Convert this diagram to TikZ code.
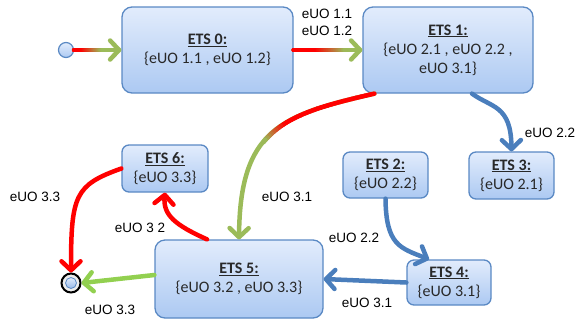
\documentclass[tikz,border=0pt]{standalone}
\usepackage{fontspec}
\setmainfont{Carlito}
\newfontfamily\labfont{Liberation Sans}
\usetikzlibrary{arrows.meta,calc}

\definecolor{redc}{RGB}{255,0,0}
\definecolor{olivec}{RGB}{155,187,89}
\definecolor{lgreenc}{RGB}{146,208,80}
\definecolor{bluec}{RGB}{74,126,188}
\definecolor{edgec}{RGB}{90,137,196}
\definecolor{boxtop}{RGB}{226,236,252}
\definecolor{boxbot}{RGB}{172,201,242}
\definecolor{txtc}{RGB}{40,40,40}

\tikzset{
  etsbox/.style={draw=edgec, line width=1.3pt, rounded corners=#1,
    top color=boxtop, bottom color=boxbot, align=center,
    font=\fontsize{16}{19}\selectfont, text=txtc, inner sep=0pt},
  etsbox/.default=10pt,
  lab/.style={font=\labfont\fontsize{13.5}{17}\selectfont, text=black, align=center, inner sep=0pt},
  conn/.style={line width=4.5pt, line cap=round, line join=round,
    -{Straight Barb[length=9pt,width=19pt,line cap=round,line join=round]}},
}

% overlay of a red-to-#7 blend along a cubic curve (#1..#4 coordinate names),
% blending between curve parameters #5 and #6
\newcommand\gradover[7]{%
  \foreach \i in {1,...,60}{%
    \pgfmathsetmacro\ta{(\i-1)/60}%
    \pgfmathsetmacro\tb{\i/60}%
    \pgfmathsetmacro\mixv{max(0,min(100,((\ta+\tb)/2-#5)/(#6-#5)*100))}%
    \ifdim\ta pt<#6pt
      \begin{pgfscope}
        \colorlet{segc}{#7!\mixv!redc}%
        \pgfsetstrokecolor{segc}%
        \pgfsetlinewidth{4.5pt}\pgfsetroundcap
        \pgfpathmoveto{\pgfpointcurveattime{\ta}{\pgfpointanchor{#1}{center}}{\pgfpointanchor{#2}{center}}{\pgfpointanchor{#3}{center}}{\pgfpointanchor{#4}{center}}}%
        \pgfpathlineto{\pgfpointcurveattime{\tb}{\pgfpointanchor{#1}{center}}{\pgfpointanchor{#2}{center}}{\pgfpointanchor{#3}{center}}{\pgfpointanchor{#4}{center}}}%
        \pgfusepath{stroke}%
      \end{pgfscope}
    \fi
  }%
}

\begin{document}
\begin{tikzpicture}[x=1pt,y=-1pt]
\useasboundingbox (0,0) rectangle (577,325);

% states
\node[etsbox, minimum width=171pt, minimum height=86pt] (e0) at (207.5,50)
  {\underline{\textbf{ETS 0:}}\\\{eUO 1.1 , eUO 1.2\}};
\node[etsbox, minimum width=170pt, minimum height=86pt] (e1) at (448,50)
  {\underline{\textbf{ETS 1:}}\\\{eUO 2.1 , eUO 2.2 ,\\eUO 3.1\}};
\node[etsbox=7pt, minimum width=86pt, minimum height=47pt] (e6) at (165,168.5)
  {\underline{\textbf{ETS 6:}}\\\{eUO 3.3\}};
\node[etsbox=7pt, minimum width=85pt, minimum height=46pt] (e2) at (385.5,175)
  {\underline{\textbf{ETS 2:}}\\\{eUO 2.2\}};
\node[etsbox=7pt, minimum width=85pt, minimum height=47pt] (e3) at (511.5,175.5)
  {\underline{\textbf{ETS 3:}}\\\{eUO 2.1\}};
\node[etsbox=7pt, minimum width=84pt, minimum height=45pt] (e4) at (449,282.5)
  {\underline{\textbf{ETS 4:}}\\\{eUO 3.1\}};
\node[etsbox, minimum width=168pt, minimum height=78pt] (e5) at (239,279)
  {\underline{\textbf{ETS 5:}}\\\{eUO 3.2 , eUO 3.3\}};

% initial and final markers
\node[circle, draw=edgec, line width=1.2pt, top color=boxtop, bottom color=boxbot,
  minimum size=15pt, inner sep=0pt] (init) at (66,50) {};
\node[circle, draw=black, line width=2pt, fill=white!85!gray,
  minimum size=19pt, inner sep=0pt] (fin) at (71,283) {};
\node[circle, draw=edgec, line width=0.8pt, top color=boxtop, bottom color=boxbot!80!bluec,
  minimum size=11pt, inner sep=0pt] (finc) at (fin.center) {};

% curve points
\coordinate (a0) at (init.east);
\coordinate (b0) at (e0.west);
\coordinate (a1) at (e0.east);
\coordinate (b1) at (e1.west);
\coordinate (a2) at ([xshift=12pt]e1.south west);
\coordinate (c2a) at (280,115);
\coordinate (c2b) at (240,130);
\coordinate (b2) at (e5.north);
\coordinate (a3) at ([xshift=24pt]e1.south);
\coordinate (b3) at (e3.north);
\coordinate (a4) at (e2.south);
\coordinate (b4) at ([xshift=-20pt]e4.north);
\coordinate (a5) at ([xshift=-32pt]e5.north);
\coordinate (b5) at (e6.south);
\coordinate (a6) at (e6.west);
\coordinate (b6) at (fin.north);
\coordinate (a7) at ([yshift=4pt]e5.west);

% connectors
\draw[conn, olivec] (a0) -- (b0);
\gradover{a0}{a0}{b0}{b0}{0.28}{0.57}{olivec}
\draw[conn, olivec] (a1) -- (b1);
\gradover{a1}{a1}{b1}{b1}{0.39}{0.68}{olivec}
\draw[conn, olivec] (a2) .. controls (c2a) and (c2b) .. (b2);
\gradover{a2}{c2a}{c2b}{b2}{0.42}{0.56}{olivec}
\draw[conn, bluec] (a3) .. controls (492,108) and (511,105) .. (b3);
\draw[conn, bluec] (a4) .. controls (386,245) and (400,248) .. (b4);
\draw[conn, bluec] (e4.west) -- (e5.east);
\draw[conn, redc] (a5) .. controls (175,225) and (163,215) .. (b5);
\draw[conn, redc] (a6) .. controls (75,185) and (71,195) .. (b6);
\draw[conn, lgreenc] (a7) -- (fin.east);

% event labels
\node[lab] (l01) at (327,22) {eUO 1.1\\eUO 1.2};
\node[lab] (l15) at (287,197) {eUO 3.1};
\node[lab] (l13) at (550,133) {eUO 2.2};
\node[lab] (l24) at (354,238) {eUO 2.2};
\node[lab] (l45) at (367,303) {eUO 3.1};
\node[lab] (l6f) at (35,197) {eUO 3.3};
\node[lab] (l56) at (140,228) {eUO 3 2};
\node[lab] (l5f) at (110,310) {eUO 3.3};
\end{tikzpicture}
\end{document}
